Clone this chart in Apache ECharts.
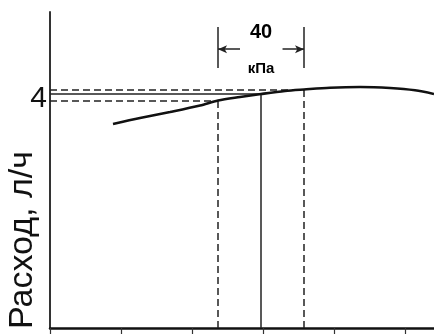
<!DOCTYPE html>
<html>
<head>
<meta charset="utf-8">
<script src="https://cdn.jsdelivr.net/npm/echarts@6/dist/echarts.min.js"></script>
<style>
  html, body { margin: 0; padding: 0; background: #fff; }
  #chart { width: 434px; height: 336px; }
</style>
</head>
<body>
<div id="chart"></div>
<script>
// Flow curve: pressure (in tick units) vs flow, л/ч
const pressure = [0.886, 1.266, 1.688, 2.110, 2.363, 2.672, 2.968, 3.305, 3.572, 3.938, 4.360, 4.782, 5.134, 5.4];
const flow     = [3.563, 3.668, 3.773, 3.886, 3.974, 4.035, 4.087, 4.140, 4.166, 4.197, 4.210, 4.192, 4.152, 4.087];

// Read-off points on the curve: lower limit, working point, upper limit
const refPressure = [2.363, 2.968, 3.572];
const refFlow     = [3.974, 4.087, 4.166];
const refDashed   = [true, false, true];

// Dimension between the two limits
const spanValue = '40';
const spanUnit = 'кПа';

// Axis ticks
const xTicks = [0, 1, 2, 3, 4, 5];
const yTickLabels = ['4'];

const dimTop = 5.26, dimBottom = 4.54, dimArrowY = 4.87;
const gapLeft = 2.672, gapRight = 3.27;

const ink = '#111';
const dashed = [7, 4];

const refLines = [];
refPressure.forEach((p, i) => {
  const style = { color: '#222', width: 1.5, type: refDashed[i] ? dashed : 'solid' };
  refLines.push([{ coord: [p, 0], lineStyle: style }, { coord: [p, refFlow[i]] }]);
  refLines.push([{ coord: [0, refFlow[i]], lineStyle: style }, { coord: [p, refFlow[i]] }]);
});

const lo = refPressure[0], hi = refPressure[refPressure.length - 1];
const dimLines = [
  [{ coord: [lo, dimBottom] }, { coord: [lo, dimTop] }],
  [{ coord: [hi, dimBottom] }, { coord: [hi, dimTop] }]
];
const arrowLines = [
  [{ coord: [lo, dimArrowY], symbol: 'arrow' }, { coord: [gapLeft, dimArrowY], symbol: 'none' }],
  [{ coord: [gapRight, dimArrowY], symbol: 'none' }, { coord: [hi, dimArrowY], symbol: 'arrow' }]
];

const chart = echarts.init(document.getElementById('chart'), null, { renderer: 'canvas' });
chart.setOption({
  animation: false,
  backgroundColor: '#fff',
  grid: { left: 50, right: 0, top: 12, bottom: 8, containLabel: false },
  xAxis: {
    type: 'value', min: 0, max: 5.4, interval: 1,
    axisLine: { show: true, lineStyle: { color: ink, width: 2.5 } },
    axisTick: { show: true, length: 6, lineStyle: { color: '#333', width: 1.2 },
      customValues: xTicks },
    axisLabel: { show: false },
    splitLine: { show: false }
  },
  yAxis: {
    type: 'value', min: 0, max: 5.52, interval: 4,
    axisLine: { show: true, lineStyle: { color: '#333', width: 2 } },
    axisTick: { show: false },
    axisLabel: {
      show: true, margin: 3,
      formatter: v => (yTickLabels.includes(String(v)) ? String(v) : ''),
      fontFamily: 'Liberation Sans', fontSize: 30, color: ink
    },
    splitLine: { show: false }
  },
  graphic: [{
    type: 'text', rotation: Math.PI / 2, x: 23, y: 329,
    style: {
      text: 'Расход, л/ч', fill: ink,
      font: '34px "Liberation Sans"',
      textAlign: 'left', textVerticalAlign: 'middle'
    }
  }],
  series: [
    {
      type: 'line', data: pressure.map((p, i) => [p, flow[i]]),
      smooth: 0.3, showSymbol: false, z: 5,
      lineStyle: { color: ink, width: 2.6 },
      markLine: {
        silent: true, symbol: ['none', 'none'], label: { show: false },
        data: refLines
      }
    },
    {
      type: 'line', data: [],
      markLine: {
        silent: true, symbol: ['none', 'none'], label: { show: false },
        lineStyle: { color: '#222', width: 1.5, type: 'solid' },
        data: dimLines
      }
    },
    {
      type: 'line', data: [],
      markLine: {
        silent: true, symbolSize: [6, 9], label: { show: false },
        lineStyle: { color: '#222', width: 1.5, type: 'solid' },
        data: arrowLines
      }
    },
    {
      type: 'scatter', symbolSize: 0, silent: true,
      itemStyle: { opacity: 1, color: ink },
      data: [
        { value: [(lo + hi) / 2, 5.17], label: { formatter: spanValue, fontSize: 20 } },
        { value: [(lo + hi) / 2, 4.52], label: { formatter: spanUnit, fontSize: 15 } }
      ],
      label: {
        show: true, position: [0, 0], align: 'center', verticalAlign: 'middle',
        color: '#000', opacity: 1,
        fontFamily: 'Liberation Sans', fontWeight: 'bold'
      }
    }
  ]
});
</script>
</body>
</html>
